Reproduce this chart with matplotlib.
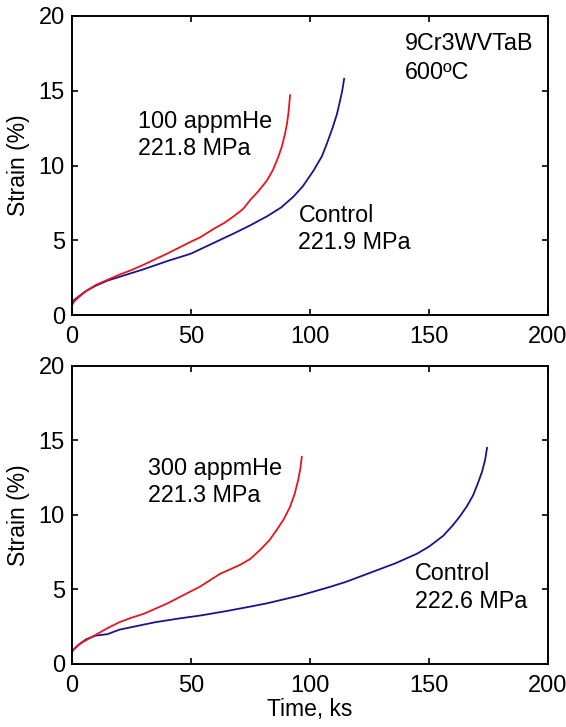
import matplotlib
matplotlib.use("Agg")
import matplotlib.pyplot as plt

# ---- data ----
top_he_t = [0, 1, 3, 6, 10, 15, 20, 25, 30, 40, 50, 54, 60, 64, 68, 72, 75, 78.5, 82, 84.5, 86.8, 88.3, 89.6, 90.4, 91.0, 91.7]
top_he_s = [0.6, 0.9, 1.2, 1.6, 2.0, 2.35, 2.7, 3.0, 3.35, 4.1, 4.9, 5.2, 5.8, 6.15, 6.6, 7.1, 7.7, 8.3, 9.0, 9.7, 10.6, 11.3, 12.15, 12.8, 13.5, 14.7]
top_ctrl_t = [0, 1, 3, 6, 10, 15, 20, 25, 30, 40, 50, 54, 60, 68, 75, 82, 88, 93, 97, 101.5, 105, 107, 109.5, 111.3, 112.5, 113.6, 114.4]
top_ctrl_s = [0.7, 1.0, 1.25, 1.6, 1.95, 2.3, 2.55, 2.8, 3.05, 3.6, 4.1, 4.4, 4.85, 5.45, 6.0, 6.6, 7.2, 7.9, 8.6, 9.65, 10.6, 11.4, 12.5, 13.4, 14.2, 15.0, 15.8]

bot_he_t = [0, 1, 3, 5, 10, 15, 20, 25, 30, 40, 54, 62.3, 70.7, 75, 79.1, 83, 86.1, 89, 91.7, 93.6, 95.1, 96.0, 96.6]
bot_he_s = [0.8, 1.0, 1.3, 1.5, 1.95, 2.4, 2.8, 3.1, 3.35, 4.05, 5.2, 6.05, 6.65, 7.05, 7.65, 8.3, 9.0, 9.7, 10.55, 11.4, 12.35, 13.1, 13.9]
bot_ctrl_t = [0, 1, 3, 6, 10, 15, 20, 26, 35, 45, 54, 65, 75, 82, 96, 108, 115, 125, 136, 145, 150, 156, 160, 163, 166, 168.5, 170.5, 172.3, 173.6, 174.4]
bot_ctrl_s = [0.8, 1.0, 1.3, 1.65, 1.9, 2.0, 2.3, 2.5, 2.8, 3.05, 3.25, 3.55, 3.85, 4.07, 4.6, 5.15, 5.5, 6.1, 6.76, 7.4, 7.87, 8.6, 9.3, 9.9, 10.6, 11.3, 12.1, 12.9, 13.7, 14.5]

x_ticks = [0, 50, 100, 150, 200]
y_ticks = [0, 5, 10, 15, 20]

RED = "#e8161c"
BLUE = "#21108a"

plt.rcParams['font.family'] = ['Liberation Sans', 'DejaVu Sans']

fig = plt.figure(figsize=(5.66, 7.27), dpi=100)
ax1 = fig.add_axes([0.1267, 0.5667, 0.8415, 0.4113])
ax2 = fig.add_axes([0.1267, 0.0867, 0.8415, 0.4100])

for ax in (ax1, ax2):
    ax.set_xlim(0, 200)
    ax.set_ylim(0, 20)
    ax.set_xticks(x_ticks)
    ax.set_yticks(y_ticks)
    ax.tick_params(direction='in', top=True, right=True, length=4, width=1.2,
                   labelsize=17)
    ax.tick_params(axis='x', pad=8)
    ax.tick_params(axis='y', pad=5)
    for sp in ax.spines.values():
        sp.set_linewidth(1.4)
    ax.set_ylabel("Strain (%)", fontsize=16.5, labelpad=6)

ax1.plot(top_ctrl_t, top_ctrl_s, color=BLUE, lw=1.3)
ax1.plot(top_he_t, top_he_s, color=RED, lw=1.3)
ax2.plot(bot_ctrl_t, bot_ctrl_s, color=BLUE, lw=1.3)
ax2.plot(bot_he_t, bot_he_s, color=RED, lw=1.3)

fs = 16.8
ax1.text(140, 17.7, "9Cr3WVTaB", fontsize=fs, va='baseline')
ax1.text(140, 15.8, "600ºC", fontsize=fs, va='baseline')
ax1.text(28, 12.5, "100 appmHe", fontsize=fs, va='baseline')
ax1.text(28, 10.7, "221.8 MPa", fontsize=fs, va='baseline')
ax1.text(95.2, 6.24, "Control", fontsize=fs, va='baseline')
ax1.text(95.2, 4.39, "221.9 MPa", fontsize=fs, va='baseline')

ax2.text(32, 12.7, "300 appmHe", fontsize=fs, va='baseline')
ax2.text(32, 10.85, "221.3 MPa", fontsize=fs, va='baseline')
ax2.text(144.2, 5.64, "Control", fontsize=fs, va='baseline')
ax2.text(144.2, 3.78, "222.6 MPa", fontsize=fs, va='baseline')

ax2.set_xlabel("Time, ks", fontsize=16.5, labelpad=1)

fig.savefig("out.png", dpi=100)
